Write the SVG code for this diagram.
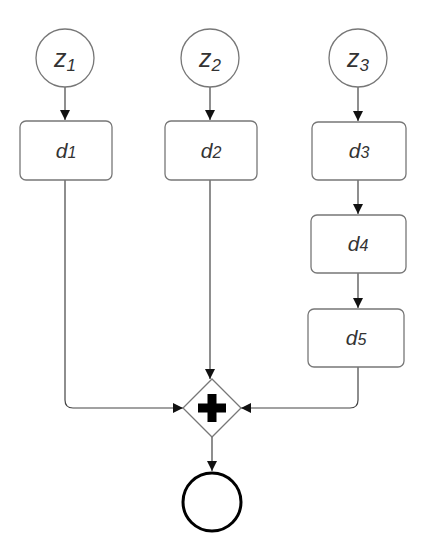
<svg xmlns="http://www.w3.org/2000/svg" width="424" height="550" viewBox="0 0 424 550">
<defs>
<marker id="arr" viewBox="0 0 10 10" refX="10" refY="5" markerWidth="10" markerHeight="10" markerUnits="userSpaceOnUse" orient="auto">
<path d="M0,0 L10,5 L0,10 z" fill="#111"/>
</marker>
</defs>
<style>
.node{fill:#fff;stroke:#777;stroke-width:1.3}
.edge{fill:none;stroke:#444;stroke-width:1.2;marker-end:url(#arr)}
.lbl{font-family:"Liberation Sans",Arial,sans-serif;font-style:italic;fill:#333;text-anchor:middle}
</style>
<rect width="424" height="550" fill="#fff"/>
<g id="connectors">
<path class="edge" d="M65,87 V120"/>
<path class="edge" d="M210,87 V120"/>
<path class="edge" d="M358,87 V121"/>
<path class="edge" d="M358,180 V214"/>
<path class="edge" d="M358,273 V308"/>
<path class="edge" d="M65,180 V400 Q65,408 73,408 H183"/>
<path class="edge" d="M210,180 V379"/>
<path class="edge" d="M358,367 V400 Q358,408 350,408 H241"/>
<path class="edge" d="M212,437 V471"/>
</g>
<g id="z1"><circle class="node" cx="65" cy="58" r="29"/><text class="lbl" x="65" y="67" font-size="25">z<tspan font-size="17" dy="4">1</tspan></text></g>
<g id="z2"><circle class="node" cx="210" cy="58" r="29"/><text class="lbl" x="210" y="67" font-size="25">z<tspan font-size="17" dy="4">2</tspan></text></g>
<g id="z3"><circle class="node" cx="358" cy="58" r="29"/><text class="lbl" x="358" y="67" font-size="25">z<tspan font-size="17" dy="4">3</tspan></text></g>
<g id="d1"><rect class="node" x="20" y="121" width="92" height="59" rx="6"/><text class="lbl" x="66" y="158" font-size="21">d<tspan font-size="16">1</tspan></text></g>
<g id="d2"><rect class="node" x="165" y="121" width="92" height="59" rx="6"/><text class="lbl" x="211" y="158" font-size="21">d<tspan font-size="16">2</tspan></text></g>
<g id="d3"><rect class="node" x="312" y="122" width="94" height="58" rx="6"/><text class="lbl" x="359" y="158" font-size="21">d<tspan font-size="16">3</tspan></text></g>
<g id="d4"><rect class="node" x="311" y="215" width="95" height="58" rx="6"/><text class="lbl" x="358" y="251" font-size="21">d<tspan font-size="16">4</tspan></text></g>
<g id="d5"><rect class="node" x="308" y="309" width="96" height="58" rx="6"/><text class="lbl" x="356" y="345" font-size="21">d<tspan font-size="16">5</tspan></text></g>
<g id="gateway"><path class="node" d="M212,379 L241,408 L212,437 L183,408 z"/><path d="M207.5,394 H216.5 V403.5 H226 V412.5 H216.5 V422 H207.5 V412.5 H198 V403.5 H207.5 z" fill="#000"/></g>
<g id="end"><circle cx="212" cy="502" r="29" fill="#fff" stroke="#000" stroke-width="3"/></g>
</svg>
